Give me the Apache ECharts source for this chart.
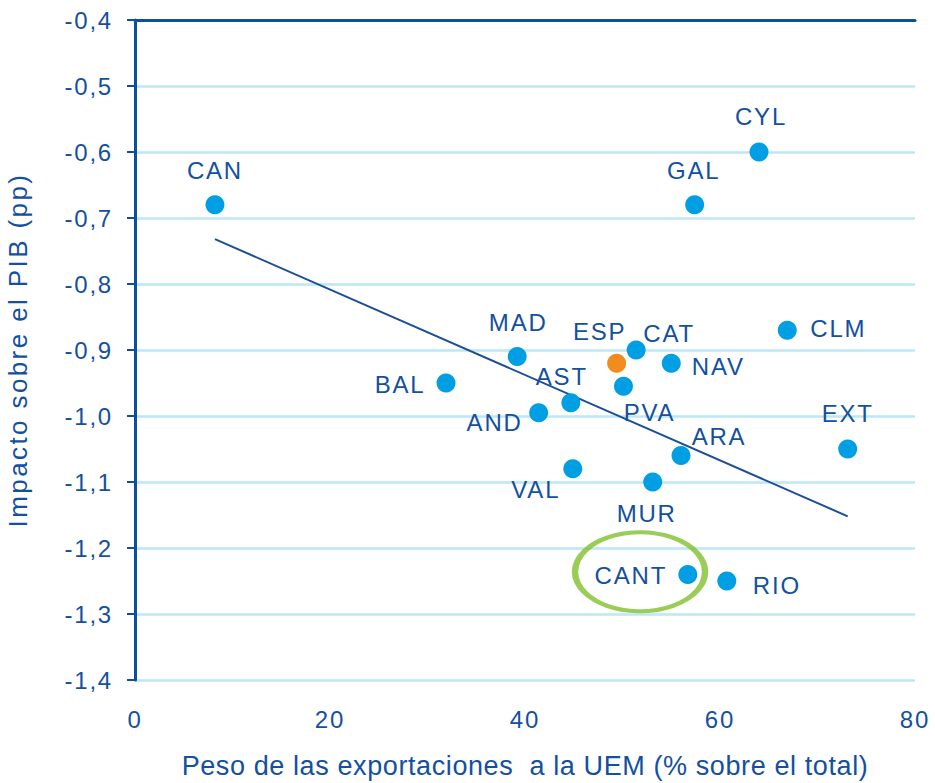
<!DOCTYPE html>
<html>
<head>
<meta charset="utf-8">
<script src="https://cdn.jsdelivr.net/npm/echarts@6/dist/echarts.min.js"></script>
<style>
html,body{margin:0;padding:0;background:#fff;}
#mainChart{width:935px;height:783px;}
/* el original tiene el texto algo espaciado */
#mainChart text{letter-spacing:1.8px;}
#mainChart text[style*="27px"]{letter-spacing:0.6px;}
#mainChart text[style*="26px"]{letter-spacing:2.4px;}
</style>
</head>
<body>
<div id="mainChart"></div>
<script>
// datos: regiones, peso exportaciones UEM (%) e impacto PIB (pp)
var regiones = ["CAN","CYL","GAL","CLM","MAD","ESP","CAT","NAV","BAL","PVA","AST","AND","EXT","ARA","VAL","MUR","CANT","RIO"];
var pesoUEM  = [8.2, 64.0, 57.4, 66.9, 39.2, 49.4, 51.4, 55.0, 31.9, 50.1, 44.7, 41.4, 73.1, 56.0, 44.9, 53.1, 56.7, 60.7];
var impacto  = [-0.68, -0.60, -0.68, -0.87, -0.91, -0.92, -0.90, -0.92, -0.95, -0.955, -0.98, -0.995, -1.05, -1.06, -1.08, -1.10, -1.24, -1.25];
// linea de tendencia (extremos)
var tendenciaX = [8.2, 73.1];
var tendenciaY = [-0.732, -1.152];
// marca de CANT
var marcaX = [51.8];
var marcaY = [-1.236];

// desplazamiento de las etiquetas respecto al punto (px)
var labelOffsets = {
    CAN:[0,-34], CYL:[2,-36], GAL:[-1,-34], CLM:[51,-2], MAD:[1,-34], ESP:[-17,-32],
    CAT:[33,-17], NAV:[47,3], BAL:[-46,1], PVA:[26,26], AST:[-9,-26], AND:[-44,10],
    EXT:[0,-36], ARA:[38,-19], VAL:[-37,21], MUR:[-6,31], CANT:[-57,1], RIO:[50,4]
};

var JsVar = new Object();
JsVar["azulTexto"] = "#1450A0";
JsVar["azulPunto"] = "#009FE3";

(function () {
    var myChart = echarts.init(document.getElementById('mainChart'), null, { renderer: 'svg' });
    var puntos = [];
    for (var i = 0; i < regiones.length; i++) {
        var p = {
            name: regiones[i],
            value: [pesoUEM[i], impacto[i]],
            label: { offset: labelOffsets[regiones[i]] }
        };
        if (regiones[i] == "ESP") {
            p.itemStyle = { color: "#F28C1F" };
        }
        puntos.push(p);
    }
    var tendencia = [];
    for (var j = 0; j < tendenciaX.length; j++) {
        tendencia.push([tendenciaX[j], tendenciaY[j]]);
    }
    var marca = [];
    for (var k = 0; k < marcaX.length; k++) {
        marca.push([marcaX[k], marcaY[k]]);
    }
    var fuente = "Liberation Sans, Arial, sans-serif";
    var option = {
        animation: false,
        grid: { left: 135, right: 20, top: 20, bottom: 103, containLabel: false, outerBoundsMode: 'none' },
        xAxis: [
            {
                type: 'value', min: 0, max: 80, interval: 20, position: 'bottom',
                name: 'Peso de las exportaciones  a la UEM (% sobre el total)',
                nameLocation: 'middle', nameGap: 72,
                nameTextStyle: { color: JsVar["azulTexto"], fontSize: 27, fontFamily: fuente },
                axisLine: { show: false }, axisTick: { show: false },
                axisLabel: { color: JsVar["azulTexto"], fontSize: 24, fontFamily: fuente, margin: 27 },
                splitLine: { show: false }
            },
            {
                type: 'value', min: 0, max: 80, position: 'top',
                axisLine: { show: true, onZero: false, lineStyle: { color: "#0B4EA2", width: 3 } },
                axisTick: { show: false }, axisLabel: { show: false }, splitLine: { show: false }
            }
        ],
        yAxis: {
            type: 'value', min: -1.4, max: -0.4, interval: 0.1,
            name: 'Impacto sobre el PIB (pp)', nameLocation: 'middle', nameGap: 104,
            nameTextStyle: { color: JsVar["azulTexto"], fontSize: 26, fontFamily: fuente },
            axisLine: { show: true, onZero: false, lineStyle: { color: "#0B4EA2", width: 3 } },
            axisTick: { show: true, length: 8, lineStyle: { color: "#0B4EA2", width: 2 } },
            axisLabel: {
                color: JsVar["azulTexto"], fontSize: 24, fontFamily: fuente, margin: 22,
                formatter: function (v) { return v.toFixed(1).replace(".", ","); }
            },
            splitLine: { show: true, lineStyle: { color: "#BDE6F6", width: 2.5 } }
        },
        series: [
            {
                type: 'line', data: tendencia, symbol: 'none', silent: true,
                lineStyle: { color: "#1A4E9A", width: 2 }, z: 2
            },
            {
                type: 'scatter', data: puntos, symbolSize: 19,
                itemStyle: { color: JsVar["azulPunto"], opacity: 1 },
                label: {
                    show: true, position: 'inside', formatter: '{b}',
                    color: JsVar["azulTexto"], fontSize: 24, fontFamily: fuente
                },
                z: 3
            },
            {
                type: 'scatter', data: marca, symbol: 'circle', symbolSize: [130, 79], silent: true,
                itemStyle: { color: 'rgba(0,0,0,0)', borderColor: "#80C12A", borderWidth: 5 },
                z: 4
            }
        ]
    };
    myChart.setOption(option);
})();
</script>
</body>
</html>
